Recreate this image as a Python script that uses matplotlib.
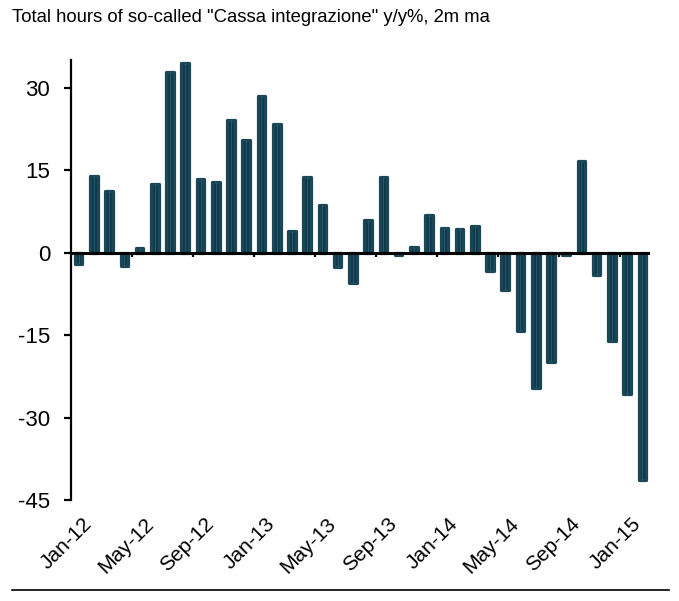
import matplotlib
matplotlib.use("Agg")
import matplotlib.pyplot as plt
import matplotlib.transforms as mtransforms
from matplotlib.lines import Line2D
import numpy as np

plt.rcParams['font.family'] = ['Liberation Sans', 'DejaVu Sans']

months = ["Jan-12","Feb-12","Mar-12","Apr-12","May-12","Jun-12","Jul-12","Aug-12","Sep-12","Oct-12","Nov-12","Dec-12",
          "Jan-13","Feb-13","Mar-13","Apr-13","May-13","Jun-13","Jul-13","Aug-13","Sep-13","Oct-13","Nov-13","Dec-13",
          "Jan-14","Feb-14","Mar-14","Apr-14","May-14","Jun-14","Jul-14","Aug-14","Sep-14","Oct-14","Nov-14","Dec-14",
          "Jan-15","Feb-15"]
values = [-2.0, 13.9, 11.2, -2.5, 0.9, 12.5, 32.9, 34.4, 13.4, 12.9, 24.1, 20.4,
          28.5, 23.4, 3.9, 13.7, 8.6, -2.6, -5.5, 5.9, 13.7, -0.4, 1.1, 6.8,
          4.4, 4.2, 4.9, -3.3, -6.8, -14.3, -24.7, -19.9, -0.5, 16.7, -4.1, -16.1,
          -25.7, -41.4]
yticks = [-45, -30, -15, 0, 15, 30]
title = 'Total hours of so-called "Cassa integrazione" y/y%, 2m ma'

fig = plt.figure(figsize=(6.79, 6.01), dpi=100)
ax = fig.add_axes([0.1046, 0.168, 0.8527, 0.732])

x = np.arange(len(values))
bar_color = '#0E3A4A'
ax.bar(x, values, width=0.5, color=bar_color, edgecolor='#1B4655',
       linewidth=2.3, joinstyle='round', zorder=2)
ax.vlines(x, 0, values, color='#2A5E80', linewidth=0.6, zorder=3)

ax.set_xlim(-0.5, len(values) - 0.5)
ax.set_ylim(-45, 35)

ax.axhline(0, color='black', linewidth=2.2, zorder=4)

for s in ['top', 'right', 'bottom']:
    ax.spines[s].set_visible(False)
ax.spines['left'].set_linewidth(1.6)
ax.spines['left'].set_bounds(-45, 35)

ax.set_yticks(yticks)
ax.set_yticklabels([str(v) for v in yticks], fontsize=16)
ax.tick_params(axis='y', length=5, width=1.6, pad=10)

label_pos = x[::4]
ax.set_xticks(label_pos)
ax.set_xticklabels([months[i] for i in label_pos], rotation=45, ha='right',
                   rotation_mode='anchor', fontsize=15)
ax.tick_params(axis='x', length=0, pad=10)
offset = mtransforms.ScaledTranslation(4 / 100, 0, fig.dpi_scale_trans)
for lab in ax.get_xticklabels():
    lab.set_transform(lab.get_transform() + offset)

# tick marks at category boundaries along the zero line
for b in np.arange(3.5, len(values) - 1, 4):
    ax.plot([b, b], [0, -0.8], color='black', linewidth=1.6, zorder=5,
            solid_capstyle='butt')

fig.text(0.018, 0.9634, title, fontsize=13.3, ha='left', va='baseline')
fig.add_artist(Line2D([0.018, 0.985], [0.0183, 0.0183], color='black', linewidth=1.2))

fig.savefig('out.png', dpi=100)
